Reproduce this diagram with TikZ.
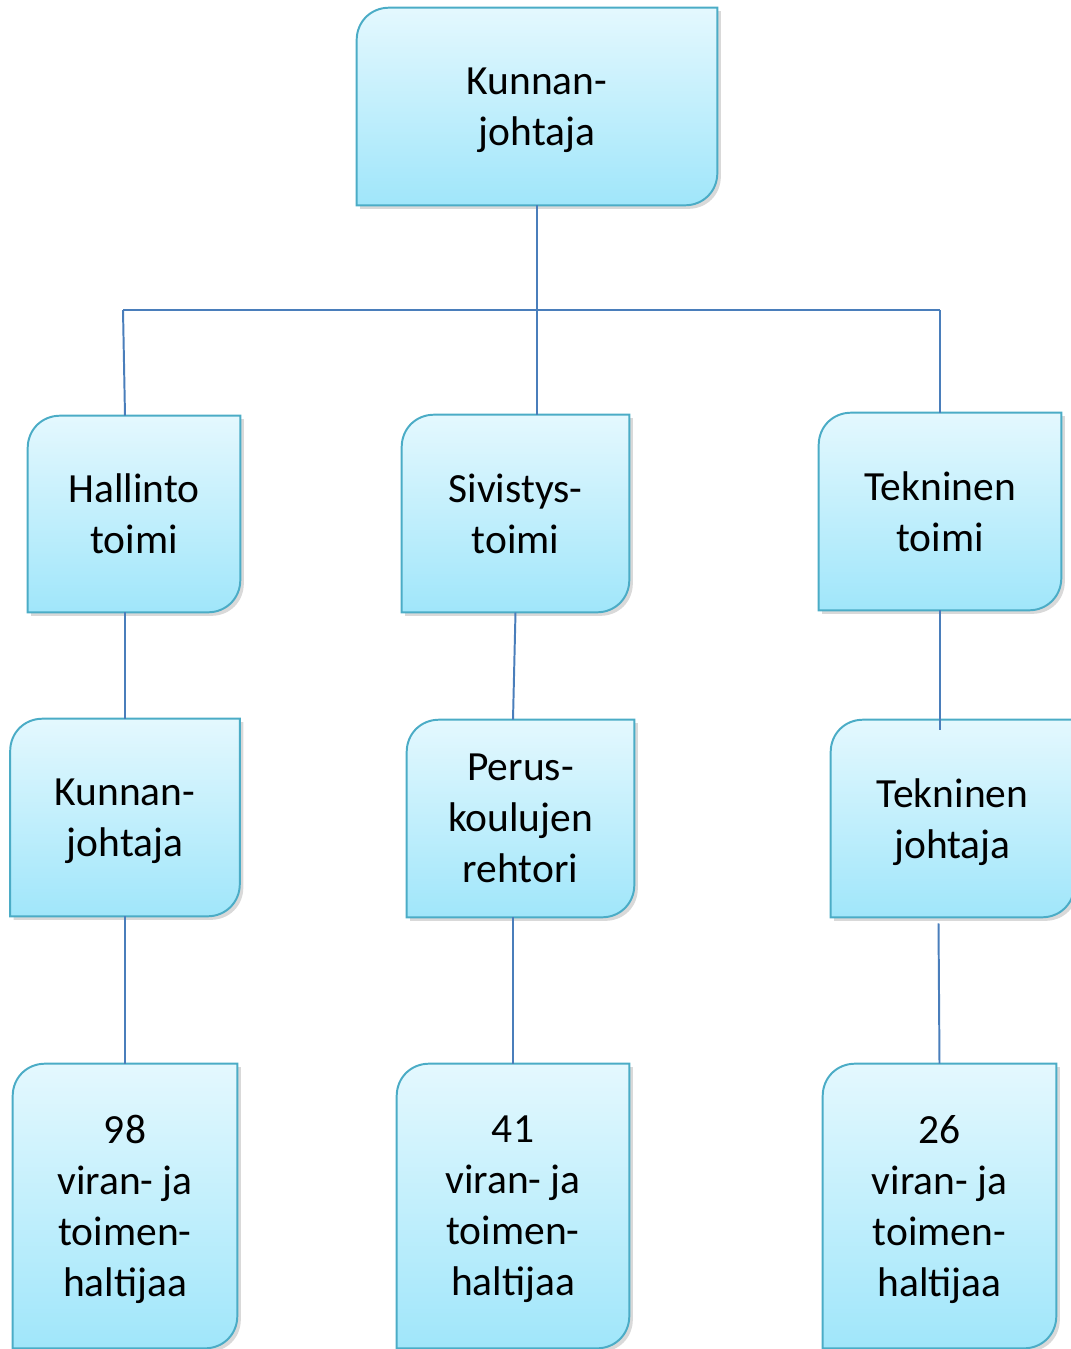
\documentclass[tikz,border=0pt]{standalone}
\usepackage{fontspec}
\setmainfont{Carlito}
\usetikzlibrary{backgrounds,shadows,calc}

\definecolor{lineblue}{RGB}{74,126,187}
\definecolor{boxedge}{RGB}{75,172,198}
\definecolor{boxtop}{RGB}{228,248,254}
\definecolor{boxbottom}{RGB}{160,230,250}

\tikzset{
	orgbox/.style={shape=rectangle, inner sep=0pt, align=center, text depth=0pt,
		font=\fontsize{29.5}{36.3}\selectfont},
	orgshape/.style={draw=boxedge, line width=1.4pt, top color=boxtop, bottom color=boxbottom,
		drop shadow={shadow xshift=2.5pt, shadow yshift=-2.5pt, opacity=0.3}},
	orgline/.style={draw=lineblue, line width=1.4pt}
}

\begin{document}
\begin{tikzpicture}[x=0.025cm, y=-0.025cm]
	\useasboundingbox (0,0) rectangle (1071,1349);

	\node[orgbox, minimum width=9cm, minimum height=4.925cm] (kunnanjohtaja) at (537,106.5) {Kunnan-\\johtaja};

	\node[orgbox, minimum width=5.3cm, minimum height=4.9cm] (hallinto) at (134,514) {Hallinto\\toimi};
	\node[orgbox, minimum width=5.675cm, minimum height=4.925cm] (sivistys) at (515.5,513.5) {Sivistys-\\toimi};
	\node[orgbox, minimum width=6.05cm, minimum height=4.925cm] (tekninen) at (940,511.5) {Tekninen\\toimi};

	\node[orgbox, minimum width=5.725cm, minimum height=4.925cm] (kunnanjohtaja2) at (125,817.5) {Kunnan-\\johtaja};
	\node[orgbox, minimum width=5.675cm, minimum height=4.925cm] (rehtori) at (520.5,818.5) {Perus-\\koulujen\\rehtori};
	\node[orgbox, minimum width=6.075cm, minimum height=4.925cm] (teknjohtaja) at (952.5,818.5) {Tekninen\\johtaja};

	\node[orgbox, minimum width=5.6cm, minimum height=7.1cm] (haltijat98) at (125,1206) {98\\viran- ja\\toimen-\\haltijaa};
	\node[orgbox, minimum width=5.8cm, minimum height=7.1cm] (haltijat41) at (513,1206) {41\\viran- ja\\toimen-\\haltijaa};
	\node[orgbox, minimum width=5.825cm, minimum height=7.1cm] (haltijat26) at (939.5,1206) {26\\viran- ja\\toimen-\\haltijaa};

	% boxes: round corners top left and bottom right only
	\begin{pgfonlayer}{background}
	\foreach \n in {kunnanjohtaja,hallinto,sivistys,tekninen,kunnanjohtaja2,rehtori,teknjohtaja,haltijat98,haltijat41,haltijat26}
		\path[orgshape] (\n.south west) -- ([yshift=-23pt]\n.north west)
			.. controls ([yshift=-10pt]\n.north west) and ([xshift=10pt]\n.north west) .. ([xshift=23pt]\n.north west)
			-- (\n.north east) -- ([yshift=23pt]\n.south east)
			.. controls ([yshift=10pt]\n.south east) and ([xshift=-10pt]\n.south east) .. ([xshift=-23pt]\n.south east)
			-- cycle;
	\end{pgfonlayer}

	% connectors
	\coordinate (jakoL) at (123,310);
	\coordinate (jakoR) at (940,310);
	\draw[orgline] (jakoL) -- (jakoR);
	\draw[orgline] (kunnanjohtaja.south) -- (kunnanjohtaja.south |- sivistys.north);
	\draw[orgline] (jakoL) -- (kunnanjohtaja2.north |- hallinto.north);
	\draw[orgline] (jakoR) -- (tekninen.north);

	\draw[orgline] (kunnanjohtaja2.north |- hallinto.south) -- (kunnanjohtaja2.north);
	\draw[orgline] (kunnanjohtaja2.south) -- (haltijat98.north);

	\draw[orgline] (sivistys.south) -- (haltijat41.north |- rehtori.north);
	\draw[orgline] (haltijat41.north |- rehtori.south) -- (haltijat41.north);

	\draw[orgline] (tekninen.south) -- ($(tekninen.south |- teknjohtaja.north)+(0,10)$);
	\draw[orgline] ($(haltijat26.north |- teknjohtaja.south)+(-1,6)$) -- (haltijat26.north);
\end{tikzpicture}
\end{document}
